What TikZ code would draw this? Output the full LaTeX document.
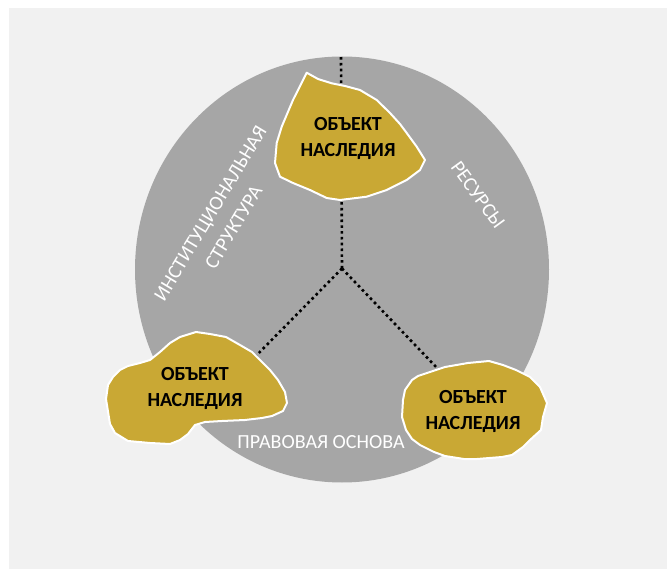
\documentclass[tikz,border=0pt]{standalone}
\usepackage{fontspec}
\setmainfont{Carlito}
\usepackage{tikz}
\usepackage{xcolor}

\definecolor{pagegray}{RGB}{241,241,241}
\definecolor{ringgray}{RGB}{166,166,166}
\definecolor{heritgold}{RGB}{201,168,52}

\begin{document}
\begin{tikzpicture}[x=1pt,y=1pt,yscale=-1,xscale=1,
  blob/.style={draw=white,line width=2pt,fill=heritgold,line join=round},
  objtext/.style={inner sep=0.75pt,align=center,font=\fontsize{20}{26}\selectfont\bfseries,text=black},
  sidetext/.style={inner sep=0.75pt,align=center,font=\fontsize{20}{27}\selectfont,text=white},
  link/.style={line width=2.6pt,dash pattern=on 2.6pt off 3.2pt,black}]
\useasboundingbox (0,0) rectangle (667,569);
%Shape: Rectangle (page)
\fill [white] (0,0) rectangle (667,569);
\fill [pagegray] (9,8) rectangle (667,569);
%Shape: Circle
\fill [ringgray] (342,269.5) ellipse [x radius=207, y radius=213];

\coordinate (hub) at (342,268.5);
\coordinate (ctop) at (341,57);
\coordinate (lend) at (250,362);
\coordinate (rend) at (438,369);
%Straight Lines
\draw [link] (hub) -- (ctop);
\draw [link] (hub) -- (lend);
\draw [link] (hub) -- (rend);

%Shape: Blob (top)
\draw [blob] (306.7,72.7) -- (318,79) -- (331.7,83.3) -- (345,86) -- (360,90) -- (376.7,100) -- (390,113) -- (400,124) -- (406.7,133) -- (416.7,146.7) -- (425,160) -- (420,170) -- (406.7,180) -- (386.7,190) -- (366.7,196.7) -- (340,200) -- (326.7,198) -- (310,190) -- (293,183) -- (280,176.7) -- (275,163) -- (276.7,143) -- (281.7,126.7) -- (293,100) -- cycle;
%Shape: Blob (left)
\draw [blob] (106,399) -- (108,385) -- (113,377) -- (120,370) -- (128,366) -- (140,363) -- (150,360) -- (160,352) -- (170,343) -- (180,337) -- (196,332) -- (210,334) -- (226,337) -- (240,345) -- (252,352) -- (262,362) -- (270,370) -- (278,380) -- (285,392) -- (287,403) -- (283,411) -- (272,416) -- (262,418) -- (245,420) -- (222,421) -- (205,422) -- (195,425) -- (188,434) -- (180,440) -- (170,444) -- (150,443) -- (128,441) -- (115,433) -- (110,424) -- cycle;
%Shape: Blob (right)
\draw [blob] (402,417) -- (403,400) -- (405,390) -- (412,380) -- (418,376) -- (430,372) -- (445,367) -- (468,363) -- (489,361) -- (503,365) -- (516,370) -- (530,377) -- (540,387) -- (547,403) -- (543,417) -- (541,430) -- (530,440) -- (523,447) -- (512,455) -- (502,457) -- (477,459) -- (464,459) -- (445,456) -- (434,452) -- (420,445) -- (412,439) -- (406,430) -- cycle;

% Text Node
\node [objtext] (objtop) at (348,138) {ОБЪЕКТ\\НАСЛЕДИЯ};
% Text Node
\node [objtext] (objleft) at (195,388) {ОБЪЕКТ\\НАСЛЕДИЯ};
% Text Node
\node [objtext] (objright) at (473,411) {ОБЪЕКТ\\НАСЛЕДИЯ};
% Text Node
\node [sidetext,rotate=59] (inst) at (222,220) {ИНСТИТУЦИОНАЛЬНАЯ\\СТРУКТУРА};
% Text Node
\node [sidetext,rotate=-54] (res) at (478,195) {РЕСУРСЫ};
% Text Node
\node [sidetext] (legal) at (321,442) {ПРАВОВАЯ ОСНОВА};

\end{tikzpicture}
\end{document}
